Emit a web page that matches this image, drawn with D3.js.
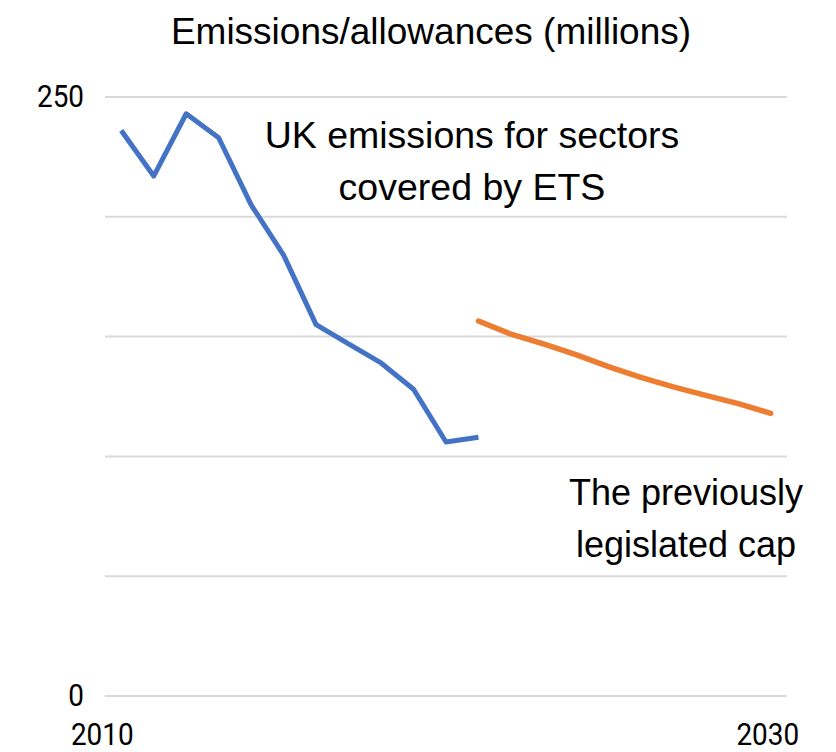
<!DOCTYPE html>
<html>
<head>
<meta charset="utf-8">
<script src="https://cdn.jsdelivr.net/npm/d3@7"></script>
<style>
  body { margin: 0; background: #fff; }
</style>
</head>
<body>
<div id="chart"></div>
<script>
const svgWidth = 836
const svgHeight = 752

// emissions for ETS sectors
const emissionYears = [2010, 2011, 2012, 2013, 2014, 2015, 2016, 2017, 2018, 2019, 2020, 2021]
const emissionValues = [236, 217, 243, 233, 205, 184, 155, 147, 139, 128, 106, 108]

// previously legislated cap
const capYears = [2021, 2022, 2023, 2024, 2025, 2026, 2027, 2028, 2029, 2030]
const capValues = [156.5, 151, 147, 142.5, 137.5, 133, 129, 125.5, 122, 118]

const yTicks = [0, 50, 100, 150, 200, 250]
const yTickLabels = ["0", "", "", "", "", "250"]
const xTickLabels = [2010, 2030]

const x = d3.scaleLinear().domain([2009.5, 2030.5]).range([105, 787])
const y = d3.scaleLinear().domain([0, 250]).range([696, 97])

// tick labels: a condensed look, roughly like the source's Calibri
const tickFont = "Roboto, 'Open Sans', sans-serif"
const squeeze = 0.9

let svg = d3.select("#chart")
  .append("svg")
  .attr("width", svgWidth)
  .attr("height", svgHeight)
  .style("font-family", "'Liberation Sans', Arial, sans-serif")

// gridlines
svg.append("g")
  .selectAll("line")
  .data(yTicks)
  .enter().append("line")
    .attr("x1", x.range()[0])
    .attr("x2", x.range()[1])
    .attr("y1", d => y(d))
    .attr("y2", d => y(d))
    .attr("stroke", "#d9d9d9")
    .attr("stroke-width", 2)

// y labels
svg.append("g")
  .selectAll("text")
  .data(yTicks.map((d, i) => ({v: d, label: yTickLabels[i]})).filter(d => d.label))
  .enter().append("text")
    .attr("transform", d => `translate(${x.range()[0] - 21},${y(d.v) - 1}) scale(${squeeze},1)`)
    .attr("dy", "0.36em")
    .attr("text-anchor", "end")
    .style("font-family", tickFont)
    .style("font-size", "31px")
    .attr("fill", "#000")
    .text(d => d.label)

// x labels (sit a little left of their category in the source)
svg.append("g")
  .selectAll("text")
  .data(xTickLabels)
  .enter().append("text")
    .attr("transform", (d, i) => `translate(${x(d) - (i === 0 ? 19 : 3)},745) scale(${squeeze},1)`)
    .attr("text-anchor", "middle")
    .style("font-family", tickFont)
    .style("font-size", "31px")
    .attr("fill", "#000")
    .text(d => d)

const line = d3.line()
  .x(d => x(d[0]))
  .y(d => y(d[1]))

svg.append("path")
  .datum(emissionYears.map((yr, i) => [yr, emissionValues[i]]))
  .attr("d", line)
  .attr("fill", "none")
  .attr("stroke", "#4472c4")
  .attr("stroke-width", 5)
  .attr("stroke-linejoin", "round")

svg.append("path")
  .datum(capYears.map((yr, i) => [yr, capValues[i]]))
  .attr("d", line)
  .attr("fill", "none")
  .attr("stroke", "#ed7d31")
  .attr("stroke-width", 5.5)
  .attr("stroke-linejoin", "round")
  .attr("stroke-linecap", "round")

// title
svg.append("text")
  .attr("x", 431)
  .attr("y", 44)
  .attr("text-anchor", "middle")
  .style("font-size", "37px")
  .text("Emissions/allowances (millions)")

// annotations
const notes = [
  {x: 472, y: 148, size: 37.5, lines: ["UK emissions for sectors", "covered by ETS"]},
  {x: 686, y: 505, size: 36, lines: ["The previously", "legislated cap"]}
]
notes.forEach(n => {
  let t = svg.append("text")
    .attr("text-anchor", "middle")
    .style("font-size", n.size + "px")
  t.selectAll("tspan")
    .data(n.lines)
    .enter().append("tspan")
      .attr("x", n.x)
      .attr("y", (d, i) => n.y + i * 52)
      .text(d => d)
})
</script>
</body>
</html>
